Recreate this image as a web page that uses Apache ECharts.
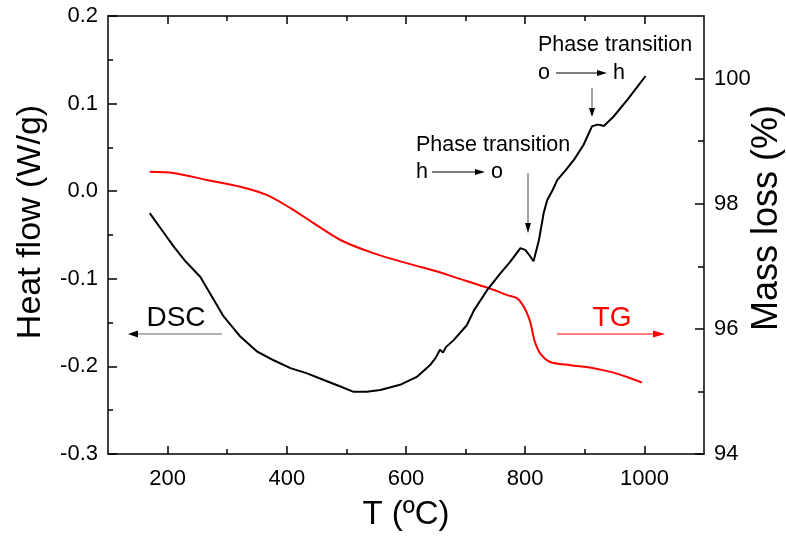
<!DOCTYPE html>
<html>
<head>
<meta charset="utf-8">
<script src="https://cdn.jsdelivr.net/npm/echarts@6/dist/echarts.min.js"></script>
<style>html,body{margin:0;padding:0;background:#fff;}#main{width:786px;height:537px;}</style>
</head>
<body>
<div id="main"></div>
<script>
// ---- data ----
const xMajorTicks = [200, 400, 600, 800, 1000];
const xMinorTicks = [300, 500, 700, 900];
const dscMajorTicks = [-0.3, -0.2, -0.1, 0.0, 0.1, 0.2];
const dscMinorTicks = [-0.25, -0.15, -0.05, 0.05, 0.15];
const tgMajorTicks = [94, 96, 98, 100];
const tgMinorTicks = [95, 97, 99];

const dscT = [170,190,210,230,255,274,294,322,350,378,406,434,462,490,512,534,557,590,618,641,650,657,662,667,680,702,714,736,758,775,792,800,806,814,823,831,837,845,854,868,882,898,912,921,926,932,948,971,988,1002];
const dscV = [-0.025,-0.044,-0.063,-0.080,-0.098,-0.120,-0.143,-0.166,-0.183,-0.193,-0.202,-0.208,-0.2155,-0.223,-0.229,-0.229,-0.227,-0.221,-0.212,-0.198,-0.190,-0.181,-0.184,-0.178,-0.170,-0.153,-0.136,-0.113,-0.094,-0.0805,-0.065,-0.067,-0.072,-0.080,-0.056,-0.025,-0.010,0.000,0.013,0.024,0.036,0.053,0.074,0.076,0.0755,0.0745,0.085,0.104,0.119,0.1315];

const tgT = [170,210,266,322,366,406,445,490,545,601,658,680,736,770,786,796,803,809,814,817,825,842,876,915,948,971,996];
const tgV = [98.51,98.49,98.38,98.27,98.14,97.93,97.69,97.42,97.21,97.05,96.90,96.83,96.66,96.54,96.49,96.38,96.25,96.09,95.87,95.77,95.61,95.47,95.42,95.37,95.30,95.23,95.14];

const FONT = '"Liberation Sans", Arial, sans-serif';
const chart = echarts.init(document.getElementById('main'));

function zip(a, b) { return a.map((v, i) => [v, b[i]]); }

function arrow(x1, y1, x2, y2, lineColor, headColor, hl, hw) {
  const dx = x2 - x1, dy = y2 - y1, L = Math.hypot(dx, dy);
  const ux = dx / L, uy = dy / L;
  const bx = x2 - ux * hl, by = y2 - uy * hl;
  return [
    { type: 'line', shape: { x1: x1, y1: y1, x2: bx, y2: by }, style: { stroke: lineColor, lineWidth: 1.2 }, z: 10 },
    { type: 'polygon', shape: { points: [[x2, y2], [bx - uy * hw, by + ux * hw], [bx + uy * hw, by - ux * hw]] }, style: { fill: headColor }, z: 10 }
  ];
}
function txt(x, y, s, size, color, align) {
  return { type: 'text', x: x, y: y, style: { text: s, font: size + 'px ' + FONT, fill: color, align: align || 'left', verticalAlign: 'middle' }, z: 10 };
}

const axisLineStyle = { show: true, onZero: false, lineStyle: { color: '#000', width: 1.5 } };
function tickAx(base, vals, len) {
  return Object.assign({
    type: 'value', axisLine: { show: false, onZero: false }, splitLine: { show: false },
    axisLabel: { show: false },
    axisTick: { show: true, inside: true, length: len, customValues: vals, lineStyle: { color: '#000', width: 1.5 } }
  }, base);
}

const graphics = [].concat(
  [txt(176, 318, 'DSC', 28, '#000', 'center')],
  arrow(222, 334, 128, 334, '#666', '#000', 10, 3.5),
  [txt(612, 318, 'TG', 28, '#ff0000', 'center')],
  arrow(557, 334, 665, 334, '#ff0000', '#ff0000', 12, 3.5),
  [txt(416, 145, 'Phase transition', 21.5, '#000'), txt(416, 172, 'h', 21.5, '#000'), txt(491, 172, 'o', 21.5, '#000')],
  arrow(432, 172, 485, 172, '#000', '#000', 10, 3),
  arrow(528, 173, 528, 233, '#666', '#000', 10, 3),
  [txt(538, 45, 'Phase transition', 21.5, '#000'), txt(538, 73, 'o', 21.5, '#000'), txt(613, 73, 'h', 21.5, '#000')],
  arrow(556, 73, 607, 73, '#000', '#000', 10, 3),
  arrow(592, 88, 592, 117, '#666', '#000', 9, 3)
);

chart.setOption({
  backgroundColor: '#fff',
  animation: false,
  textStyle: { fontFamily: FONT },
  grid: { left: 108, right: 82, top: 16, bottom: 83, containLabel: false, outerBoundsMode: 'none' },
  xAxis: [
    {
      type: 'value', min: 100, max: 1100, position: 'bottom',
      name: 'T (ºC)', nameLocation: 'middle', nameGap: 44, nameMoveOverlap: false,
      nameTextStyle: { fontSize: 33, color: '#000', fontFamily: FONT },
      axisLine: axisLineStyle, splitLine: { show: false },
      axisTick: { show: true, inside: true, length: 8, customValues: xMajorTicks, lineStyle: { color: '#000', width: 1.5 } },
      axisLabel: { show: true, customValues: xMajorTicks, fontSize: 22, color: '#000', margin: 14, fontFamily: FONT,
        formatter: v => String(v) }
    },
    tickAx({ min: 100, max: 1100, position: 'bottom' }, xMinorTicks, 5),
    Object.assign(tickAx({ min: 100, max: 1100, position: 'top' }, xMajorTicks, 8), { axisLine: axisLineStyle }),
    tickAx({ min: 100, max: 1100, position: 'top' }, xMinorTicks, 5)
  ],
  yAxis: [
    {
      type: 'value', min: -0.3, max: 0.2, position: 'left',
      name: 'Heat flow (W/g)', nameLocation: 'middle', nameGap: 60, nameRotate: 90, nameMoveOverlap: false,
      nameTextStyle: { fontSize: 34, color: '#000', fontFamily: FONT, padding: [0, 0, 0, 26] },
      axisLine: axisLineStyle, splitLine: { show: false },
      axisTick: { show: true, inside: true, length: 9, customValues: dscMajorTicks, lineStyle: { color: '#000', width: 1.5 } },
      axisLabel: { show: true, customValues: dscMajorTicks, fontSize: 22, color: '#000', margin: 10, fontFamily: FONT,
        formatter: v => Number(v).toFixed(1) }
    },
    tickAx({ min: -0.3, max: 0.2, position: 'left' }, dscMinorTicks, 5),
    {
      type: 'value', min: 94, max: 101, position: 'right',
      name: 'Mass loss (%)', nameLocation: 'middle', nameGap: 45, nameRotate: 90, nameMoveOverlap: false,
      nameTextStyle: { fontSize: 36, color: '#000', fontFamily: FONT, padding: [0, 0, 0, 34] },
      axisLine: axisLineStyle, splitLine: { show: false },
      axisTick: { show: true, inside: true, length: 9, customValues: tgMajorTicks, lineStyle: { color: '#000', width: 1.5 } },
      axisLabel: { show: true, customValues: tgMajorTicks, fontSize: 22, color: '#000', margin: 10, fontFamily: FONT }
    },
    tickAx({ min: 94, max: 101, position: 'right' }, tgMinorTicks, 6)
  ],
  series: [
    {
      name: 'DSC', type: 'line', xAxisIndex: 0, yAxisIndex: 0, data: zip(dscT, dscV),
      showSymbol: false, smooth: false, lineStyle: { color: '#000', width: 2 }, z: 5
    },
    {
      name: 'TG', type: 'line', xAxisIndex: 0, yAxisIndex: 2, data: zip(tgT, tgV),
      showSymbol: false, smooth: 0.3, lineStyle: { color: '#ff0000', width: 2 }, z: 4
    }
  ],
  graphic: graphics
});
</script>
</body>
</html>
